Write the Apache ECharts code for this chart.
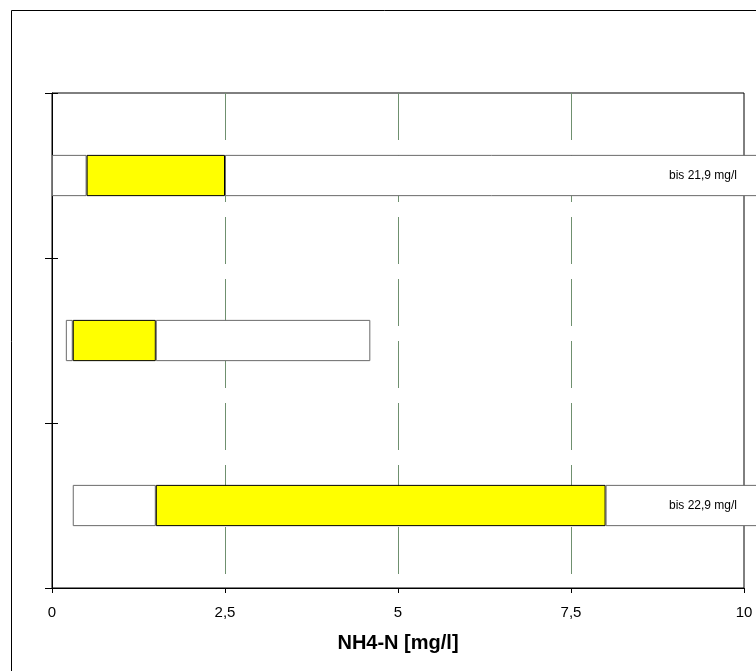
<!DOCTYPE html>
<html>
<head>
<meta charset="utf-8">
<script src="https://cdn.jsdelivr.net/npm/echarts@6/dist/echarts.min.js"></script>
<style>
html,body{margin:0;padding:0;background:#fff;}
#chart{width:756px;height:671px;}
</style>
</head>
<body>
<div id="chart"></div>
<script>
// Data (top to bottom)
const categories = ['1', '2', '3'];
const minVals = [0, 0.2, 0.3];
const lowVals = [0.5, 0.3, 1.5];
const highVals = [2.5, 1.5, 8.0];
const maxVals = [21.9, 4.6, 22.9];
const maxLabels = ['bis 21,9 mg/l', '', 'bis 22,9 mg/l'];
const xTicks = [0, 2.5, 5, 7.5, 10];
const xMin = 0, xMax = 10, xStep = 2.5;
const xTitle = 'NH4-N [mg/l]';

const FONT = 'Liberation Sans, Arial, sans-serif';
const chart = echarts.init(document.getElementById('chart'), null, {renderer: 'canvas'});

const segLow = lowVals.map((v, i) => +(v - minVals[i]).toFixed(4));
const segMid = highVals.map((v, i) => +(v - lowVals[i]).toFixed(4));
const segHigh = maxVals.map((v, i) => +(v - highVals[i]).toFixed(4));
const labelData = maxVals.map((v, i) => (v > xMax ? xMax : '-'));

const whiteStyle = {color: '#ffffff', borderColor: '#6a6a6a', borderWidth: 1};
const yellowStyle = {color: '#ffff00', borderColor: '#000000', borderWidth: 1};

chart.setOption({
  animation: false,
  backgroundColor: '#ffffff',
  textStyle: {fontFamily: FONT},
  graphic: [{
    type: 'rect',
    shape: {x: 11.5, y: 10.5, width: 900, height: 900},
    style: {fill: null, stroke: '#000', lineWidth: 1},
    silent: true
  }],
  grid: {
    left: 52, right: 12, top: 93, bottom: 83,
    show: true, borderColor: '#000', borderWidth: 1, backgroundColor: 'transparent'
  },
  xAxis: {
    type: 'value', min: xMin, max: xMax, interval: xStep,
    axisLine: {show: true, lineStyle: {color: '#000', width: 1}},
    axisTick: {show: true, length: 5, lineStyle: {color: '#000'}},
    axisLabel: {
      color: '#000', fontSize: 15, fontFamily: FONT, margin: 17,
      formatter: v => String(v).replace('.', ',')
    },
    splitLine: {
      show: true, showMinLine: false, showMaxLine: false,
      lineStyle: {color: '#6f906f', width: 1, type: [47, 15]}
    },
    name: xTitle, nameLocation: 'middle', nameGap: 45,
    nameTextStyle: {color: '#000', fontSize: 20, fontWeight: 'bold', fontFamily: FONT}
  },
  yAxis: [{
    type: 'category', data: categories, inverse: true,
    axisLine: {show: true, lineStyle: {color: '#000', width: 1}},
    axisTick: {show: false},
    axisLabel: {show: false},
    splitLine: {show: false}
  }, {
    type: 'category', data: categories, inverse: true, position: 'left', offset: -6,
    axisLine: {show: false},
    axisTick: {show: true, length: 13, lineStyle: {color: '#000'}},
    axisLabel: {show: false},
    splitLine: {show: false}
  }],
  series: [{
    type: 'bar', stack: 'box', data: minVals, barWidth: '25%', clip: false,
    itemStyle: {color: 'transparent', borderWidth: 0}, silent: true
  }, {
    type: 'bar', stack: 'box', data: segLow, barWidth: '25%', clip: false,
    itemStyle: whiteStyle
  }, {
    type: 'bar', stack: 'box', data: segMid, barWidth: '25%', clip: false,
    itemStyle: yellowStyle
  }, {
    type: 'bar', stack: 'box', data: segHigh, barWidth: '25%', clip: false,
    itemStyle: whiteStyle
  }, {
    type: 'bar', stack: 'labels', data: labelData, barWidth: '25%', barGap: '-100%',
    itemStyle: {color: 'transparent', borderWidth: 0}, silent: true, z: 5,
    label: {
      show: true, position: 'insideRight', distance: 7,
      color: '#000', fontSize: 12, fontFamily: FONT,
      formatter: p => maxLabels[p.dataIndex]
    }
  }]
});
</script>
</body>
</html>
